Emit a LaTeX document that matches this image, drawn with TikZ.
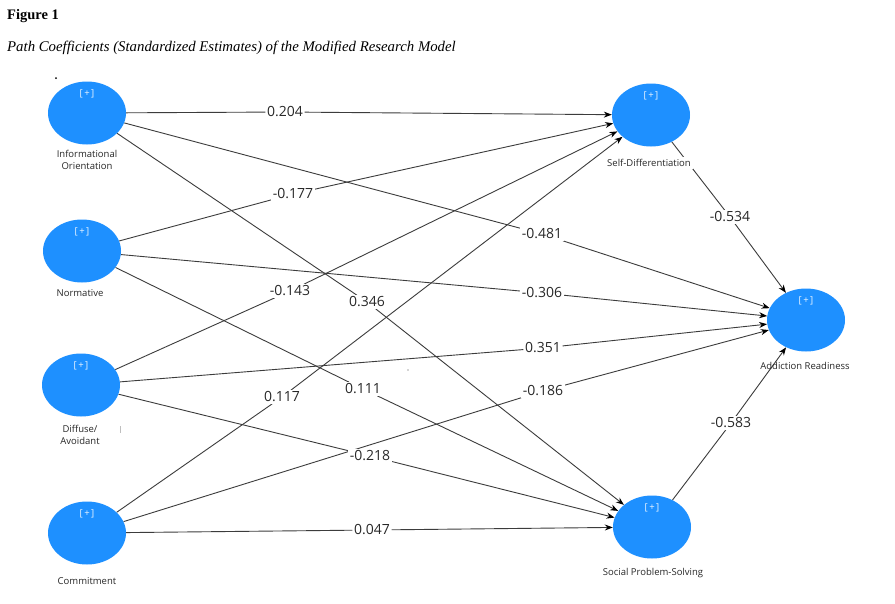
\documentclass[tikz,border=0pt]{standalone}
\usepackage{fontspec}
\setmainfont{Liberation Serif}
\newfontfamily\lblfont{Open Sans}
\usetikzlibrary{shapes.geometric,arrows.meta,backgrounds}
\definecolor{nodeblue}{RGB}{30,144,255}
\definecolor{edgegray}{RGB}{60,60,60}
\definecolor{txtgray}{RGB}{40,40,40}
\begin{document}
\begin{tikzpicture}[x=1pt,y=-1pt,
  lv/.style={ellipse,fill=nodeblue,draw=none,minimum width=78pt,minimum height=63pt,inner sep=0pt},
  plus/.style={text=white!92!nodeblue,inner sep=0pt,font=\lblfont\fontsize{9.5}{10}\selectfont},
  vname/.style={font=\lblfont\fontsize{9.5}{12}\selectfont,align=center,text=txtgray,inner sep=0pt},
  coef/.style={font=\lblfont\fontsize{14}{16}\selectfont,fill=white,inner sep=1.5pt,text=txtgray},
  pathline/.style={draw=edgegray,line width=0.9pt,-{Stealth[length=8pt,width=6pt,black]}},
  ]
\useasboundingbox (0,0) rectangle (895,603);
% titles
\node[anchor=west,inner sep=0pt,font=\bfseries\fontsize{14.5}{16}\selectfont] (fig) at (7,16) {Figure 1};
\node[anchor=west,inner sep=0pt,font=\itshape\fontsize{14.8}{16}\selectfont] (cap) at (7,48) {Path Coefficients (Standardized Estimates) of the Modified Research Model};
% latent variables
\node[lv] (info) at (87,113) {};
\node[lv] (norm) at (82,251) {};
\node[lv] (diff) at (81,385) {};
\node[lv] (comm) at (87,533) {};
\node[lv] (sd) at (651,115) {};
\node[lv] (ar) at (806,320) {};
\node[lv] (sps) at (652,527) {};
% [+] marks
\node[plus] (pinfo) at (87,94) {[\kern1.5pt+\kern1.5pt]};
\node[plus] (pnorm) at (82,232) {[\kern1.5pt+\kern1.5pt]};
\node[plus] (pdiff) at (81,366) {[\kern1.5pt+\kern1.5pt]};
\node[plus] (pcomm) at (87,514) {[\kern1.5pt+\kern1.5pt]};
\node[plus] (psd) at (651,96) {[\kern1.5pt+\kern1.5pt]};
\node[plus] (par) at (806,301) {[\kern1.5pt+\kern1.5pt]};
\node[plus] (psps) at (652,508) {[\kern1.5pt+\kern1.5pt]};
% names
\node[vname] (ninfo) at (87,160) {Informational\\Orientation};
\node[vname] (nnorm) at (80,293) {Normative};
\node[vname] (ndiff) at (80,435) {Diffuse/\\Avoidant};
\node[vname] (ncomm) at (87,581) {Commitment};
\node[vname,fill=white,inner sep=2pt] (nsd) at (649,163) {Self-Differentiation};
\node[vname] (nar) at (805,366) {Addiction Readiness};
\node[vname] (nsps) at (653,573) {Social Problem-Solving};
% coefficients
\node[coef] (l1) at (285,112) {0.204};
\node[coef] (l2) at (542,234) {-0.481};
\node[coef] (l3) at (367,302) {0.346};
\node[coef] (l4) at (293,194) {-0.177};
\node[coef] (l5) at (542,293) {-0.306};
\node[coef] (l6) at (363,389) {0.111};
\node[coef] (l7) at (290,291) {-0.143};
\node[coef] (l8) at (543,348) {0.351};
\node[coef] (l9) at (370,456) {-0.218};
\node[coef] (l10) at (282,397) {0.117};
\node[coef] (l11) at (543,391) {-0.186};
\node[coef] (l12) at (372,530) {0.047};
\node[coef] (l13) at (730,217) {-0.534};
\node[coef] (l14) at (731,423) {-0.583};
% paths
\begin{scope}[on background layer]
\fill[white] (0,0) rectangle (895,603);
\draw[pathline] (info) -- (l1) -- (sd);
\draw[pathline] (info) -- (l2) -- (ar);
\draw[pathline] (info) -- (l3) -- (sps);
\draw[pathline] (norm) -- (l4) -- (sd);
\draw[pathline] (norm) -- (l5) -- (ar);
\draw[pathline] (norm) -- (l6) -- (sps);
\draw[pathline] (diff) -- (l7) -- (sd);
\draw[pathline] (diff) -- (l8) -- (ar);
\draw[pathline] (diff) -- (l9) -- (sps);
\draw[pathline] (comm) -- (l10) -- (sd);
\draw[pathline] (comm) -- (l11) -- (ar);
\draw[pathline] (comm) -- (l12) -- (sps);
\draw[pathline] (sd) -- (l13) -- (ar);
\draw[pathline] (sps) -- (l14) -- (ar);
\end{scope}
% small stray marks
\fill[black] (56,78) circle (1pt);
\fill[black!70] (408,370) circle (0.7pt);
\draw[black!25,line width=0.6pt] (120,426) -- (120,433);
\end{tikzpicture}
\end{document}
